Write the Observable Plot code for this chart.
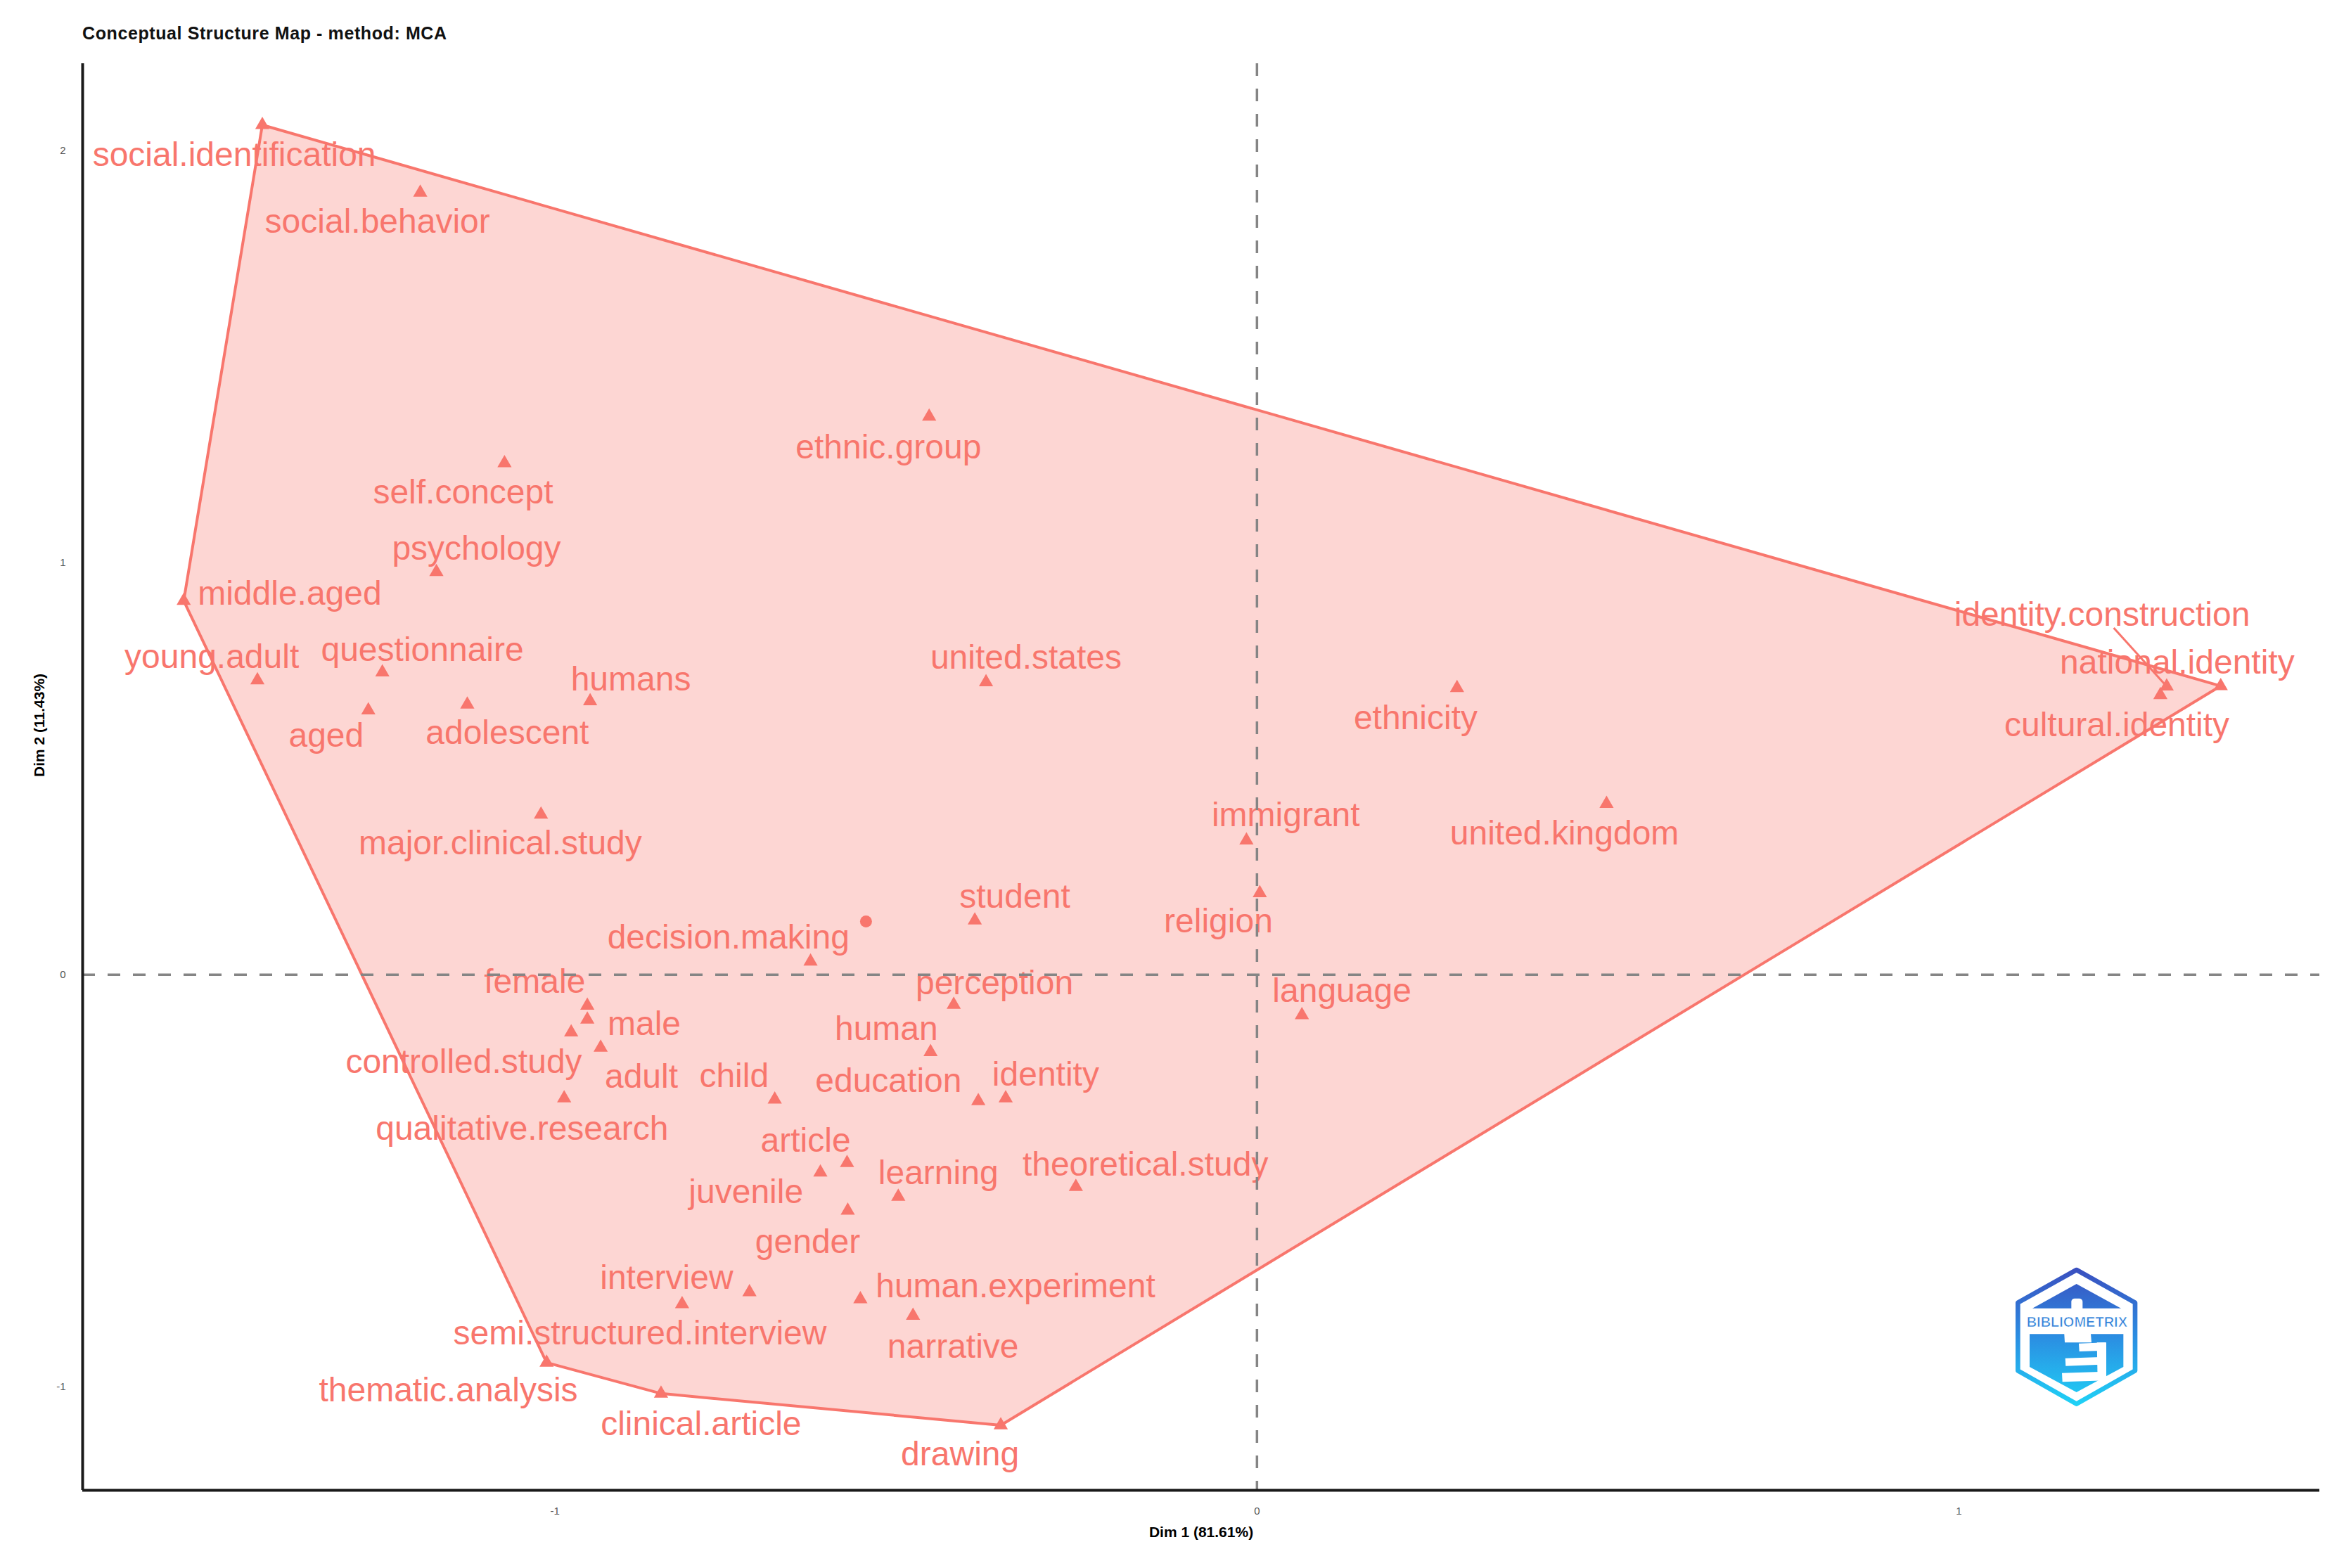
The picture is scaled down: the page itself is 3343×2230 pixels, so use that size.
<!DOCTYPE html>
<html>
<head>
<meta charset="utf-8">
<script src="https://cdn.jsdelivr.net/npm/d3@7"></script>
<script src="https://cdn.jsdelivr.net/npm/@observablehq/plot@0.6"></script>
<style>
html, body { margin: 0; padding: 0; background: #fff; overflow: hidden; }
#wrap { position: relative; width: 3343px; height: 2230px; font-family: "Liberation Sans", Arial, sans-serif; }
#title { position: absolute; left: 117px; top: 35px; font-size: 25px; line-height: 25px; font-weight: bold; letter-spacing: 0.6px; color: #111; white-space: nowrap; }
#chart { position: absolute; left: 0; top: 70px; }
#chart svg { max-width: none; }
#logo { position: absolute; left: 2800px; top: 1750px; }
</style>
</head>
<body>
<div id="wrap">
  <div id="title">Conceptual Structure Map - method: MCA</div>
  <div id="chart"></div>
  <svg id="logo" width="350" height="300" viewBox="0 0 1050 900">
    <defs>
      <linearGradient id="lg" gradientUnits="userSpaceOnUse" x1="0" y1="165" x2="0" y2="745">
        <stop offset="0" stop-color="#3a50c0"/>
        <stop offset="0.5" stop-color="#2b8ee2"/>
        <stop offset="1" stop-color="#1fd2f6"/>
      </linearGradient>
    </defs>
    <polygon points="458,168 708,308 708,598 458,740 208,598 208,308" fill="none" stroke="url(#lg)" stroke-width="20" stroke-linejoin="round"/>
    <polygon points="270,332 458,228 648,332" fill="url(#lg)"/>
    <polygon points="258,442 658,442 658,582 458,690 258,582" fill="url(#lg)"/>
    <rect x="436" y="290" width="48" height="70" rx="14" fill="#fff"/>
    <polygon points="405,428 518,428 522,478 408,478" fill="#fff"/>
    <polygon points="468,482 582,478 585,512 470,516" fill="#fff"/>
    <polygon points="410,545 562,540 565,572 412,578" fill="#fff"/>
    <polygon points="396,608 582,602 585,640 398,646" fill="#fff"/>
    <polygon points="545,478 585,478 585,640 548,640" fill="#fff"/>
    <text x="460" y="410" text-anchor="middle" font-family="Liberation Sans, Arial, sans-serif" font-weight="bold" font-size="60" fill="#2f7fd8" stroke="#ffffff" stroke-width="2">BIBLIOMETRIX</text>
  </svg>
</div>
<script>
// ---- data ----
const terms = [
  "social.identification", "social.behavior", "ethnic.group", "self.concept", "psychology",
  "middle.aged", "young.adult", "questionnaire", "humans", "aged",
  "adolescent", "major.clinical.study", "united.states", "ethnicity", "identity.construction",
  "national.identity", "cultural.identity", "united.kingdom", "immigrant", "religion",
  "student", "decision.making", "perception", "language", "female",
  "male", "controlled.study", "adult", "human", "child",
  "education", "identity", "qualitative.research", "article", "juvenile",
  "learning", "theoretical.study", "gender", "interview", "semi.structured.interview",
  "human.experiment", "narrative", "thematic.analysis", "clinical.article", "drawing"
];
const dim1 = [
  -1.417, -1.192, -0.467, -1.072, -1.169,
  -1.529, -1.424, -1.246, -0.950, -1.266,
  -1.125, -1.020, -0.386, 0.285, 1.296,
  1.373, 1.287, 0.498, -0.015, 0.004,
  -0.402, -0.636, -0.432, 0.064, -0.954,
  -0.954, -0.977, -0.935, -0.465, -0.687,
  -0.397, -0.358, -0.987, -0.584, -0.622,
  -0.511, -0.258, -0.583, -0.723, -0.819,
  -0.565, -0.490, -1.012, -0.849, -0.365
];
const dim2 = [
  2.063, 1.899, 1.355, 1.242, 0.978,
  0.908, 0.715, 0.734, 0.664, 0.642,
  0.656, 0.389, 0.710, 0.696, 0.700,
  0.701, 0.679, 0.415, 0.326, 0.198,
  0.132, 0.032, -0.073, -0.098, -0.075,
  -0.109, -0.140, -0.177, -0.188, -0.303,
  -0.307, -0.300, -0.300, -0.457, -0.480,
  -0.539, -0.515, -0.573, -0.771, -0.800,
  -0.788, -0.828, -0.942, -1.017, -1.094
];
// repelled label positions (data units)
const labelDim1 = [
  -1.457, -1.253, -0.525, -1.131, -1.112,
  -1.378, -1.489, -1.189, -0.892, -1.326,
  -1.068, -1.078, -0.329, 0.226, 1.204,
  1.311, 1.225, 0.438, 0.041, -0.055,
  -0.345, -0.753, -0.374, 0.121, -1.029,
  -0.873, -1.130, -0.877, -0.528, -0.745,
  -0.525, -0.301, -1.047, -0.643, -0.728,
  -0.454, -0.159, -0.640, -0.841, -0.879,
  -0.344, -0.433, -1.152, -0.792, -0.423
];
const labelDim2 = [
  1.989, 1.828, 1.280, 1.171, 1.034,
  0.925, 0.771, 0.788, 0.717, 0.580,
  0.587, 0.319, 0.770, 0.623, 0.873,
  0.758, 0.606, 0.343, 0.386, 0.129,
  0.189, 0.090, -0.021, -0.040, -0.018,
  -0.121, -0.212, -0.248, -0.133, -0.246,
  -0.259, -0.243, -0.375, -0.403, -0.529,
  -0.483, -0.462, -0.649, -0.736, -0.872,
  -0.757, -0.904, -1.010, -1.091, -1.165
];
const leaderTerms = ["identity.construction"];
const centroidDim1 = [-0.557];
const centroidDim2 = [0.129];
const xDomain = [-1.673, 1.514];
const yDomain = [-1.252, 2.212];
const xTicks = [-1, 0, 1];
const yTicks = [-1, 0, 1, 2];
const xTitle = "Dim 1 (81.61%)";
const yTitle = "Dim 2 (11.43%)";

// ---- build tables ----
const rows = terms.map((t, i) => ({term: t, x: dim1[i], y: dim2[i], lx: labelDim1[i], ly: labelDim2[i]}));
const leaders = rows.filter(r => leaderTerms.includes(r.term)).map(r => ({
  x1: r.lx + 0.18 * (r.x - r.lx), y1: r.ly + 0.18 * (r.y - r.ly), x2: r.x, y2: r.y
}));
const centroids = centroidDim1.map((x, i) => ({x, y: centroidDim2[i]}));

const red = "#F8766D";
const font = "Liberation Sans, Arial, sans-serif";

const plot = Plot.plot({
  width: 3343,
  height: 2160,
  marginLeft: 117,
  marginRight: 45,
  marginTop: 20,
  marginBottom: 111,
  style: {fontFamily: font, fontSize: "15px", color: "#555", background: "#fff", overflow: "visible"},
  x: {domain: xDomain, ticks: xTicks, tickSize: 0, tickPadding: 24, label: null, tickFormat: d => String(d)},
  y: {domain: yDomain, ticks: yTicks, tickSize: 0, tickPadding: 24, label: null, tickFormat: d => String(d)},
  marks: [
    Plot.hull(rows, {x: "x", y: "y", fill: red, fillOpacity: 0.3, stroke: "none"}),
    Plot.link(leaders, {x1: "x1", y1: "y1", x2: "x2", y2: "y2", stroke: red, strokeWidth: 3}),
    Plot.dot(rows, {x: "x", y: "y", symbol: "triangle", r: 7.5, fill: red, stroke: "none"}),
    Plot.dot(centroids, {x: "x", y: "y", symbol: "circle", r: 8.5, fill: red, stroke: "none"}),
    Plot.text(rows, {x: "lx", y: "ly", text: "term", fill: red, fontSize: 48, fontFamily: font, textAnchor: "middle", lineAnchor: "middle"}),
    Plot.hull(rows, {x: "x", y: "y", fill: "none", stroke: red, strokeWidth: 4, strokeLinejoin: "round"}),
    Plot.ruleX([0], {stroke: "#858585", strokeWidth: 3.5, strokeDasharray: "18,18"}),
    Plot.ruleY([0], {stroke: "#858585", strokeWidth: 3.5, strokeDasharray: "18,18"}),
    Plot.ruleX([xDomain[0]], {stroke: "#1a1a1a", strokeWidth: 4}),
    Plot.ruleY([yDomain[0]], {stroke: "#1a1a1a", strokeWidth: 4}),
    Plot.text([xTitle], {text: d => d, frameAnchor: "bottom", dy: 60, lineAnchor: "middle", fontSize: 21, fontWeight: "bold", fill: "#000"}),
    Plot.text([yTitle], {text: d => d, frameAnchor: "left", dx: -61, rotate: -90, lineAnchor: "middle", fontSize: 21, fontWeight: "bold", fill: "#000"})
  ]
});
document.getElementById("chart").appendChild(plot);
</script>
</body>
</html>
